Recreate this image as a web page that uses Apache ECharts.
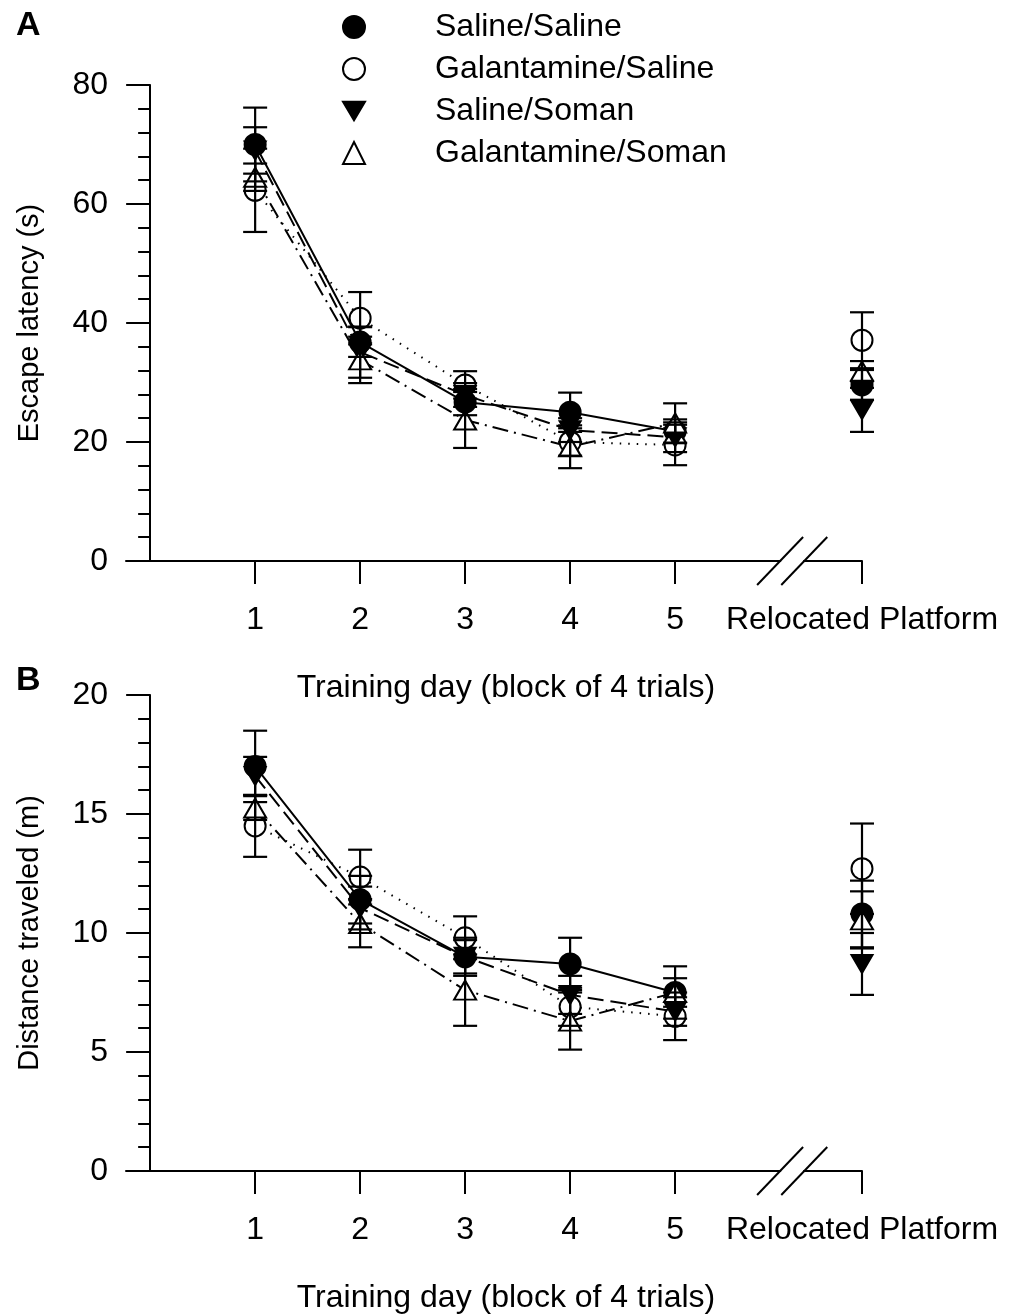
<!DOCTYPE html>
<html style="height: 100%">
<head>
	<meta charset="utf-8">
</head>
<body style="height: 100%; margin: 0; background: #fff">
<div id="container" style="width: 1011px; height: 1315px"></div>
<script type="text/javascript" src="https://cdn.jsdelivr.net/npm/echarts@6/dist/echarts.min.js"></script>
<script type="text/javascript">
    var groups = ['Saline/Saline', 'Galantamine/Saline', 'Saline/Soman', 'Galantamine/Soman'];
    var days = [1, 2, 3, 4, 5];
    var relocX = 6.78;          // x position of the "Relocated Platform" column
    var breakFrom = 6.0, breakTo = 6.23;
    var xTicks = [1, 2, 3, 4, 5, relocX];

    // Panel A - escape latency (s), mean and SEM per training day
    var latSalSal = [70.0, 36.8, 26.7, 25.0, 21.8];
    var latGalSal = [62.3, 40.8, 29.6, 20.0, 19.5];
    var latSalSom = [69.0, 35.1, 27.9, 22.0, 20.8];
    var latGalSom = [64.5, 33.8, 23.7, 19.2, 23.2];
    var latSalSalSE = [6.2, 2.5, 2.2, 3.3, 2.0];
    var latGalSalSE = [7.0, 4.4, 2.3, 2.3, 3.4];
    var latSalSomSE = [3.9, 4.3, 2.0, 2.0, 2.5];
    var latGalSomSE = [2.3, 3.9, 4.7, 3.6, 3.3];
    var latReloc = [29.6, 37.1, 25.4, 31.9];
    var latRelocSE = [2.5, 4.7, 3.7, 1.7];

    // Panel B - distance traveled (m)
    var distSalSal = [17.0, 11.4, 9.0, 8.7, 7.5];
    var distGalSal = [14.5, 12.35, 9.8, 6.9, 6.5];
    var distSalSom = [16.6, 11.05, 9.0, 7.4, 6.7];
    var distGalSom = [15.25, 10.4, 7.6, 6.3, 7.5];
    var distSalSalSE = [1.5, 1.0, 0.8, 1.1, 0.6];
    var distGalSalSE = [1.3, 1.15, 0.9, 0.8, 1.0];
    var distSalSomSE = [0.8, 0.9, 0.7, 0.8, 0.6];
    var distGalSomSE = [0.5, 1.0, 1.5, 1.2, 1.1];
    var distReloc = [10.8, 12.7, 8.7, 10.55];
    var distRelocSE = [1.4, 1.9, 1.3, 1.2];

    var FONT = 'Liberation Sans';
    var downTri = 'path://M0,0L20,0L10,17Z';
    var symbols = ['circle', 'circle', downTri, 'triangle'];
    var sizes = [21, 21, [21, 18], [22, 19]];
    var fills = ['#000', '#fff', '#000', '#fff'];
    var dashes = ['solid', [1.5, 7], [16, 7], [16, 6, 2, 6]];

    var panels = [
        {means: [latSalSal, latGalSal, latSalSom, latGalSom],
         ses: [latSalSalSE, latGalSalSE, latSalSomSE, latGalSomSE],
         reloc: latReloc, relocSE: latRelocSE, max: 80, interval: 20,
         yName: 'Escape latency (s)', top: 85},
        {means: [distSalSal, distGalSal, distSalSom, distGalSom],
         ses: [distSalSalSE, distGalSalSE, distSalSomSE, distGalSomSE],
         reloc: distReloc, relocSE: distRelocSE, max: 20, interval: 5,
         yName: 'Distance traveled (m)', top: 695}
    ];

    function renderErr(params, api) {
        var x = api.value(0), m = api.value(1), s = api.value(2);
        var hi = api.coord([x, m + s]);
        var lo = api.coord([x, m - s]);
        var w = 12;
        var st = {stroke: '#000', lineWidth: 2.2};
        return {
            type: 'group',
            children: [
                {type: 'line', shape: {x1: hi[0], y1: hi[1], x2: lo[0], y2: lo[1]}, style: st},
                {type: 'line', shape: {x1: hi[0] - w, y1: hi[1], x2: hi[0] + w, y2: hi[1]}, style: st},
                {type: 'line', shape: {x1: lo[0] - w, y1: lo[1], x2: lo[0] + w, y2: lo[1]}, style: st}
            ]
        };
    }

    var grids = [], xAxes = [], yAxes = [], series = [];
    panels.forEach(function (p, gi) {
        grids.push({left: 126, right: 149, top: p.top, height: 476, containLabel: false, outerBoundsMode: 'none'});
        xAxes.push({
            type: 'value', gridIndex: gi, min: -0.23, max: relocX,
            splitLine: {show: false},
            axisLine: {lineStyle: {color: '#000', width: 2}},
            axisTick: {show: true, length: 23, customValues: xTicks, lineStyle: {color: '#000', width: 2}},
            axisLabel: {
                customValues: xTicks, margin: 43, color: '#000', fontSize: 32, fontFamily: FONT,
                formatter: function (v) { return v > 5.5 ? 'Relocated Platform' : String(Math.round(v)); }
            },
            name: 'Training day (block of 4 trials)', nameLocation: 'middle', nameGap: 111,
            nameMoveOverlap: false,
            nameTextStyle: {color: '#000', fontSize: 32, fontFamily: FONT, padding: [0, 0, 0, 24]}
        });
        yAxes.push({
            type: 'value', gridIndex: gi, min: 0, max: p.max, interval: p.interval,
            splitLine: {show: false},
            axisLine: {onZero: true, lineStyle: {color: '#000', width: 2}},
            axisTick: {length: 24, lineStyle: {color: '#000', width: 2}},
            minorTick: {show: true, splitNumber: 5, length: 12, lineStyle: {color: '#000', width: 2}},
            axisLabel: {margin: 18, color: '#000', fontSize: 32, fontFamily: FONT},
            name: p.yName, nameLocation: 'middle', nameGap: 82, nameRotate: 90,
            nameMoveOverlap: false,
            nameTextStyle: {color: '#000', fontSize: 29, fontFamily: FONT}
        });

        var errRows = [];
        groups.forEach(function (g, k) {
            var style = {color: fills[k], borderColor: '#000', borderWidth: 2, opacity: 1};
            series.push({
                type: 'line', name: g, xAxisIndex: gi, yAxisIndex: gi,
                data: days.map(function (d, i) { return [d, p.means[k][i]]; }),
                symbol: symbols[k], symbolSize: sizes[k], showSymbol: true,
                itemStyle: style,
                lineStyle: {color: '#000', width: 2, type: dashes[k]},
                z: 2, animation: false
            });
            series.push({
                type: 'scatter', name: g, xAxisIndex: gi, yAxisIndex: gi,
                data: [[relocX, p.reloc[k]]],
                symbol: symbols[k], symbolSize: sizes[k],
                itemStyle: style, z: 2, animation: false
            });
            days.forEach(function (d, i) { errRows.push([d, p.means[k][i], p.ses[k][i]]); });
            errRows.push([relocX, p.reloc[k], p.relocSE[k]]);
        });
        series.push({
            type: 'custom', name: 'sem', xAxisIndex: gi, yAxisIndex: gi,
            data: errRows, encode: {x: 0, y: 1}, renderItem: renderErr,
            z: 3, animation: false, silent: true
        });
    });

    var dom = document.getElementById('container');
    var myChart = echarts.init(dom);
    myChart.setOption({
        backgroundColor: '#fff',
        animation: false,
        title: [
            {text: 'A', left: 11, top: 4, textStyle: {fontSize: 34, fontWeight: 'bold', color: '#000', fontFamily: FONT}},
            {text: 'B', left: 11, top: 659, textStyle: {fontSize: 34, fontWeight: 'bold', color: '#000', fontFamily: FONT}}
        ],
        legend: {
            orient: 'vertical', left: 337, top: 6,
            itemWidth: 22, itemHeight: 22, itemGap: 10, selectedMode: false,
            textStyle: {fontSize: 32, lineHeight: 32, color: '#000', fontFamily: FONT, padding: [0, 0, 0, 65]},
            data: groups.map(function (g, k) { return {name: g, icon: symbols[k]}; })
        },
        grid: grids,
        xAxis: xAxes,
        yAxis: yAxes,
        series: series
    });

    // broken x axis: gap plus two slashes between day 5 and the relocated column
    var gfx = [];
    panels.forEach(function (p, gi) {
        var a = myChart.convertToPixel({gridIndex: gi}, [breakFrom, 0]);
        var b = myChart.convertToPixel({gridIndex: gi}, [breakTo, 0]);
        gfx.push({type: 'rect', z: 100, shape: {x: a[0] + 1, y: a[1] - 3, width: b[0] - a[0] - 2, height: 6}, style: {fill: '#fff'}});
        [a, b].forEach(function (c) {
            gfx.push({type: 'line', z: 101, shape: {x1: c[0] - 23, y1: c[1] + 24, x2: c[0] + 23, y2: c[1] - 24},
                style: {stroke: '#000', lineWidth: 2}});
        });
    });
    myChart.setOption({graphic: gfx});
</script>
</body>
</html>
